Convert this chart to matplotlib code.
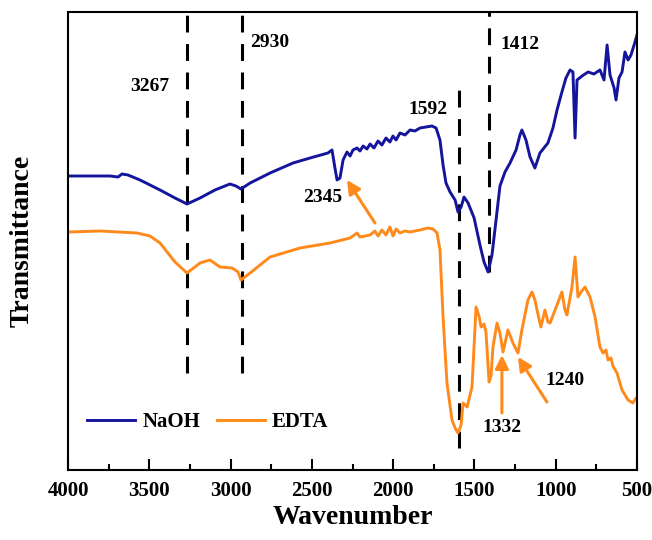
import numpy as np
import matplotlib
matplotlib.use("Agg")
import matplotlib.pyplot as plt
from matplotlib.ticker import MultipleLocator

plt.rcParams['font.family'] = ['Liberation Serif', 'DejaVu Serif']
plt.rcParams['font.weight'] = 'bold'

# NaOH spectrum (wavenumber, transmittance a.u.)
naoh_wn = [4000, 3865, 3742, 3692, 3668, 3631, 3557, 3434, 3342, 3268, 3188, 3096, 3004, 2967,
           2936, 2880, 2757, 2616, 2511, 2401, 2376, 2358, 2345, 2327, 2308, 2284, 2265, 2247,
           2222, 2204, 2185, 2161, 2142, 2118, 2093, 2069, 2044, 2020, 2001, 1982, 1958, 1927,
           1896, 1866, 1835, 1798, 1761, 1736, 1712, 1693, 1675, 1650, 1619, 1601, 1582, 1564,
           1539, 1502, 1466, 1441, 1416, 1392, 1367, 1343, 1312, 1281, 1244, 1220, 1208, 1183,
           1158, 1128, 1097, 1048, 1017, 992, 962, 937, 912, 894, 881, 869, 838, 801, 765, 728,
           703, 684, 666, 641, 629, 611, 592, 574, 555, 537, 518, 500]
naoh_t = [294, 294, 294, 293, 296, 295, 290, 280, 272, 266, 272, 280, 286, 284,
          281, 287, 297, 307, 312, 317, 320, 302, 290, 292, 310, 318, 314, 320,
          322, 319, 324, 321, 326, 322, 329, 325, 332, 328, 334, 330, 337, 335,
          340, 339, 342, 343, 344, 342, 330, 305, 287, 278, 270, 258, 263, 273,
          267, 252, 225, 208, 198, 215, 250, 284, 298, 307, 320, 335, 340, 330,
          313, 302, 317, 327, 342, 360, 378, 392, 400, 398, 332, 390, 394, 398, 396, 400,
          390, 425, 395, 382, 370, 392, 398, 418, 410, 415, 425, 435]

# EDTA spectrum
edta_wn = [4000, 3803, 3576, 3496, 3434, 3342, 3268, 3188, 3127, 3065, 2991, 2954, 2936, 2880,
           2757, 2573, 2388, 2265, 2222, 2204, 2142, 2112, 2093, 2069, 2044, 2020, 2001, 1982,
           1958, 1927, 1896, 1835, 1786, 1755, 1730, 1712, 1693, 1669, 1638, 1619, 1601, 1582,
           1570, 1545, 1515, 1490, 1472, 1459, 1441, 1429, 1410, 1398, 1386, 1361, 1343, 1324,
           1294, 1263, 1232, 1208, 1171, 1146, 1128, 1115, 1091, 1066, 1048, 1035, 992, 962,
           943, 931, 900, 881, 863, 844, 820, 789, 758, 728, 709, 691, 678, 660, 648, 623,
           592, 555, 525, 506, 500]
edta_t = [238, 239, 237, 234, 227, 208, 197, 207, 210, 203, 202, 198, 190, 197,
          213, 222, 227, 232, 237, 233, 235, 239, 234, 240, 235, 243, 234, 241,
          237, 239, 238, 240, 242, 241, 237, 220, 153, 87, 50, 42, 37, 45,
          67, 63, 83, 163, 154, 143, 146, 138, 88, 94, 123, 147, 137, 118,
          140, 127, 117, 140, 170, 178, 170, 160, 143, 160, 148, 147, 165, 178,
          160, 155, 183, 213, 173, 178, 183, 173, 153, 123, 117, 120, 110, 112, 104, 97,
          80, 70, 67, 72, 70]

# marked bands
peaks = [3267, 2930, 1592, 1412]
peak_top = [458, 458, 382, 458]
peak_bottom = [97, 97, 22, 198]

blue = '#14149C'
orange = '#FF8A1C'

fig = plt.figure(figsize=(6.52, 5.40), dpi=100)
ax = fig.add_axes([0.1043, 0.1296, 0.8727, 0.8482])

ax.plot(naoh_wn, naoh_t, color=blue, lw=2.1, label='NaOH')
ax.plot(edta_wn, edta_t, color=orange, lw=2.1, label='EDTA')

for p, top, bot in zip(peaks, peak_top, peak_bottom):
    ax.plot([p, p], [bot, top], color='black', lw=2.2, dashes=(5.5, 3.8), zorder=1)

# labels for bands
fs = 14
ax.text(3496, 383, '3267', fontsize=fs, ha='center', va='center')
ax.text(2757, 427, '2930', fontsize=fs, ha='center', va='center')
ax.text(2431, 272, '2345', fontsize=fs, ha='center', va='center')
ax.text(1786, 360, '1592', fontsize=fs, ha='center', va='center')
ax.text(1220, 425, '1412', fontsize=fs, ha='center', va='center')
ax.text(1331, 43, '1332', fontsize=fs, ha='center', va='center')
ax.text(943, 90, '1240', fontsize=fs, ha='center', va='center')

arrow = dict(arrowstyle='-|>', color=orange, lw=2.2, mutation_scale=20, shrinkA=0, shrinkB=0)
ax.annotate('', xy=(2284, 290), xytext=(2112, 247), arrowprops=arrow)
ax.annotate('', xy=(1331, 115), xytext=(1331, 57), arrowprops=arrow)
ax.annotate('', xy=(1232, 113), xytext=(1054, 68), arrowprops=arrow)

ax.set_xlim(4000, 500)
ax.set_ylim(0, 458)
ax.xaxis.set_major_locator(MultipleLocator(500))
ax.xaxis.set_minor_locator(MultipleLocator(250))
ax.set_yticks([])
ax.tick_params(axis='x', which='major', direction='in', length=8, width=1.5, labelsize=15, pad=8)
ax.tick_params(axis='x', which='minor', direction='in', length=4, width=1.5)
for s in ax.spines.values():
    s.set_linewidth(1.5)

ax.set_xlabel('Wavenumber', fontsize=20, fontweight='bold', labelpad=3)
ax.set_ylabel('Transmittance', fontsize=20, fontweight='bold', labelpad=24)

ax.legend(loc='center left', bbox_to_anchor=(0.0334, 0.105), ncol=2, frameon=False,
          fontsize=15, handlelength=2.3, handletextpad=0.35, columnspacing=0.8,
          borderpad=0, borderaxespad=0)

fig.savefig('out.png', dpi=100)
